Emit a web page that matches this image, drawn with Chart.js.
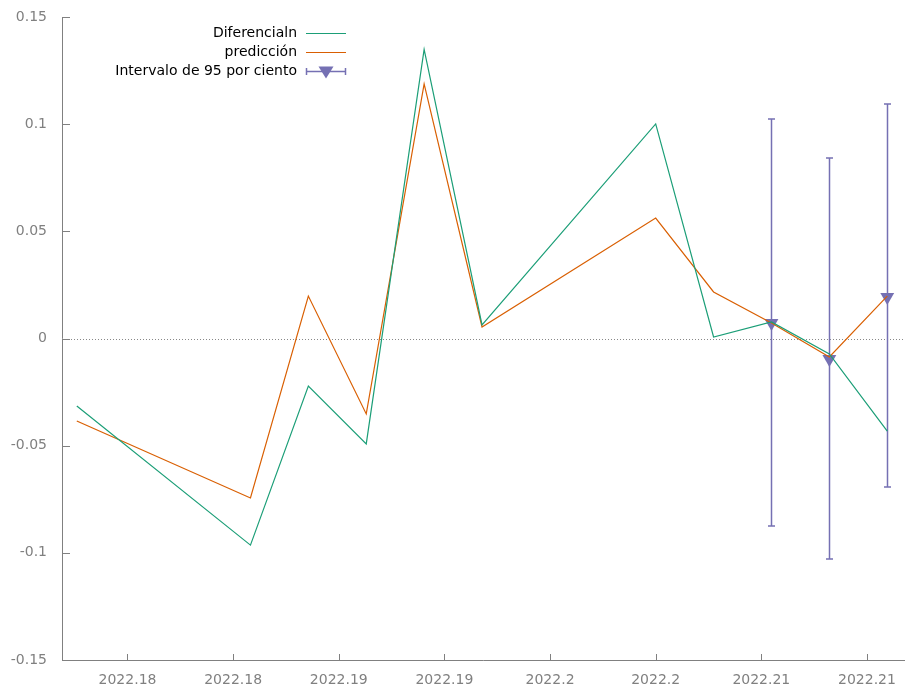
<!DOCTYPE html>
<html>
<head>
<meta charset="utf-8">
<script src="https://cdn.jsdelivr.net/npm/chart.js@4/dist/chart.umd.min.js"></script>
<style>
  html, body { margin: 0; padding: 0; background: #fff; overflow: hidden; }
  #wrap { width: 906px; height: 689px; }
  canvas { display: block; }
</style>
</head>
<body>
<div id="wrap"><canvas id="chart" width="906" height="689"></canvas></div>
<script>
// Dates as decimal years (daily data)
const xDates = [2022.17260, 2022.18082, 2022.18356, 2022.18630, 2022.18904, 2022.19178,
                2022.20000, 2022.20274, 2022.20548, 2022.20822, 2022.21096];
const diferencial = [-0.0315, -0.0964, -0.0222, -0.0492, 0.1349, 0.0063,
                     0.1001, 0.0007, 0.0077, -0.0072, -0.0432];
const prediccion = [-0.0385, -0.0744, 0.0198, -0.0352, 0.1188, 0.0054,
                    0.0562, 0.0217, 0.0072, -0.0086, 0.0198];

// 95% interval for the forecast days
const intervalDates = [2022.20548, 2022.20822, 2022.21096];
const intervalMid = [0.0072, -0.0096, 0.0194];
const intervalLow = [-0.0875, -0.1029, -0.0693];
const intervalHigh = [0.1024, 0.0842, 0.1094];

const xTickValues = [2022.175, 2022.18, 2022.185, 2022.19, 2022.195, 2022.2, 2022.205, 2022.21];
const xTickLabels = ['2022.18', '2022.18', '2022.19', '2022.19', '2022.2', '2022.2', '2022.21', '2022.21'];
const yTickValues = [-0.15, -0.1, -0.05, 0, 0.05, 0.1, 0.15];
const yTickLabels = ['-0.15', '-0.1', '-0.05', '0', '0.05', '0.1', '0.15'];

const legendNames = ['Diferencialn', 'predicción', 'Intervalo de 95 por ciento'];

const GREEN = '#1b9e77';
const ORANGE = '#d95f02';
const PURPLE = '#7570b3';
const AXIS = '#808080';
const FONT = '14px "DejaVu Sans"';

const toPoints = (xs, ys) => xs.map((x, i) => ({ x: x, y: ys[i] }));

// no extra room for overflowing tick labels, the plot box is fixed
function fixBox(axis, size) {
    if (axis.isHorizontal()) axis.height = size; else axis.width = size;
    axis.paddingTop = 0;
    axis.paddingBottom = 0;
    axis.paddingLeft = 0;
    axis.paddingRight = 0;
}

// draws axes, inward ticks, x labels, zero line, error bars and the legend
const gnuplotLook = {
    id: 'gnuplotLook',
    beforeDatasetsDraw(chart) {
        const { ctx, chartArea: a, scales: { x, y } } = chart;
        ctx.save();
        // dotted zero line
        ctx.strokeStyle = '#888';
        ctx.lineWidth = 1;
        ctx.setLineDash([1, 2]);
        const y0 = Math.round(y.getPixelForValue(0)) + 0.5;
        ctx.beginPath();
        ctx.moveTo(a.left, y0);
        ctx.lineTo(a.right, y0);
        ctx.stroke();
        ctx.setLineDash([]);

        // axes
        ctx.strokeStyle = AXIS;
        ctx.beginPath();
        ctx.moveTo(a.left + 0.5, a.top);
        ctx.lineTo(a.left + 0.5, a.bottom + 0.5);
        ctx.lineTo(a.right, a.bottom + 0.5);
        ctx.stroke();
        ctx.beginPath();
        yTickValues.forEach(v => {
            const py = Math.round(y.getPixelForValue(v)) + 0.5;
            ctx.moveTo(a.left, py);
            ctx.lineTo(a.left + 8, py);
        });
        xTickValues.forEach(v => {
            const px = Math.round(x.getPixelForValue(v)) + 0.5;
            ctx.moveTo(px, a.bottom);
            ctx.lineTo(px, a.bottom - 6);
        });
        ctx.stroke();

        // x tick labels
        ctx.font = FONT;
        ctx.fillStyle = AXIS;
        ctx.textAlign = 'center';
        ctx.textBaseline = 'middle';
        xTickValues.forEach((v, i) => {
            ctx.fillText(xTickLabels[i], x.getPixelForValue(v), a.bottom + 20);
        });

        // error bars
        ctx.strokeStyle = PURPLE;
        ctx.lineWidth = 1.5;
        ctx.beginPath();
        intervalDates.forEach((d, i) => {
            const px = Math.round(x.getPixelForValue(d)) + 0.5;
            const top = y.getPixelForValue(intervalHigh[i]);
            const bot = y.getPixelForValue(intervalLow[i]);
            ctx.moveTo(px, top);
            ctx.lineTo(px, bot);
            ctx.moveTo(px - 3.5, top);
            ctx.lineTo(px + 3.5, top);
            ctx.moveTo(px - 3.5, bot);
            ctx.lineTo(px + 3.5, bot);
        });
        ctx.stroke();
        ctx.restore();
    },
    afterDraw(chart) {
        const { ctx } = chart;
        ctx.save();
        ctx.font = FONT;
        ctx.textAlign = 'right';
        ctx.textBaseline = 'middle';
        const rows = [33, 52, 71];
        const colors = [GREEN, ORANGE, PURPLE];
        legendNames.forEach((name, i) => {
            ctx.fillStyle = '#000';
            ctx.fillText(name, 297, rows[i]);
            ctx.strokeStyle = colors[i];
            ctx.lineWidth = i === 2 ? 1.5 : 1.2;
            ctx.beginPath();
            ctx.moveTo(306, rows[i] + 0.5);
            ctx.lineTo(346, rows[i] + 0.5);
            if (i === 2) {
                ctx.moveTo(306.5, rows[i] - 3);
                ctx.lineTo(306.5, rows[i] + 4);
                ctx.moveTo(345.5, rows[i] - 3);
                ctx.lineTo(345.5, rows[i] + 4);
            }
            ctx.stroke();
            if (i === 2) {
                ctx.fillStyle = PURPLE;
                ctx.beginPath();
                ctx.moveTo(318.5, rows[i] - 4.5);
                ctx.lineTo(333.5, rows[i] - 4.5);
                ctx.lineTo(326, rows[i] + 7.5);
                ctx.closePath();
                ctx.fill();
            }
        });
        ctx.restore();
    }
};

new Chart(document.getElementById('chart'), {
    type: 'line',
    data: {
        datasets: [
            {
                label: legendNames[0],
                data: toPoints(xDates, diferencial),
                borderColor: GREEN,
                borderWidth: 1.2,
                pointRadius: 0,
                tension: 0
            },
            {
                label: legendNames[1],
                data: toPoints(xDates, prediccion),
                borderColor: ORANGE,
                borderWidth: 1.2,
                pointRadius: 0,
                tension: 0
            },
            {
                label: legendNames[2],
                data: toPoints(intervalDates, intervalMid),
                showLine: false,
                pointStyle: 'triangle',
                rotation: 180,
                pointRadius: 8,
                backgroundColor: PURPLE,
                borderColor: PURPLE,
                borderWidth: 0
            }
        ]
    },
    options: {
        responsive: false,
        animation: false,
        layout: { autoPadding: false, padding: { top: 17, right: 1, left: 0, bottom: 0 } },
        plugins: {
            legend: { display: false },
            tooltip: { enabled: false }
        },
        scales: {
            x: {
                type: 'linear',
                min: 2022.1719,
                max: 2022.2118,
                grid: { display: false, drawTicks: false },
                border: { display: false },
                afterBuildTicks: axis => { axis.ticks = xTickValues.map(v => ({ value: v })); },
                afterFit: axis => fixBox(axis, 29),
                ticks: { display: false }
            },
            y: {
                min: -0.15,
                max: 0.15,
                grid: { display: false, drawTicks: false },
                border: { display: false },
                afterBuildTicks: axis => { axis.ticks = yTickValues.map(v => ({ value: v })); },
                afterFit: axis => fixBox(axis, 62),
                ticks: {
                    padding: 15,
                    color: AXIS,
                    font: { family: 'DejaVu Sans', size: 14 },
                    callback: (v, i) => yTickLabels[i]
                }
            }
        }
    },
    plugins: [gnuplotLook]
});
</script>
</body>
</html>
